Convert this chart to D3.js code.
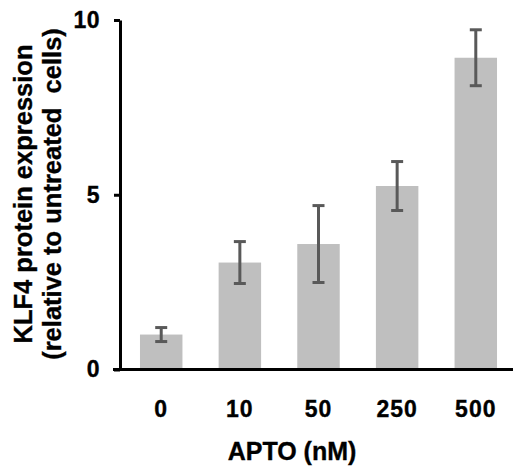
<!DOCTYPE html>
<html lang="en">
<head>
    <meta charset="UTF-8">
    <title>KLF4 expression vs APTO</title>
    <script src="https://cdn.jsdelivr.net/npm/d3@7"></script>
    <style>
        body { margin: 0; background: #fff; }
        text { font-family: "Liberation Sans", Arial, sans-serif; font-weight: bold; fill: #000; stroke: #000; stroke-width: 0.35px; }
    </style>
</head>
<body>
    <svg id="chart" width="513" height="469"></svg>

    <script>
        // data
        let doses = ["0", "10", "50", "250", "500"];
        let klf4 = [1.0, 3.06, 3.59, 5.25, 8.92];
        let klf4_err = [0.2, 0.6, 1.1, 0.7, 0.8];
        let y_ticks = [0, 5, 10];

        let svg = d3.select("#chart");

        let x = d3.scaleBand()
            .domain(doses)
            .range([120, 517])
            .paddingInner(0.46)
            .paddingOuter(0.254);

        let y = d3.scaleLinear()
            .domain([0, 10])
            .range([369.5, 20]);

        // bars
        svg.append("g")
            .selectAll("rect")
            .data(doses)
            .join("rect")
            .attr("x", d => x(d))
            .attr("width", x.bandwidth())
            .attr("y", (d, i) => y(klf4[i]))
            .attr("height", (d, i) => y(0) - y(klf4[i]))
            .attr("fill", "#bfbfbf");

        // error bars
        let err = svg.append("g")
            .attr("stroke", "#595959")
            .attr("stroke-width", 3);

        doses.forEach((d, i) => {
            let cx = x(d) + x.bandwidth() / 2;
            let top = y(klf4[i] + klf4_err[i]);
            let bot = y(klf4[i] - klf4_err[i]);
            err.append("line").attr("x1", cx).attr("x2", cx).attr("y1", top).attr("y2", bot);
            err.append("line").attr("x1", cx - 6).attr("x2", cx + 6).attr("y1", top).attr("y2", top);
            err.append("line").attr("x1", cx - 6).attr("x2", cx + 6).attr("y1", bot).attr("y2", bot);
        });

        // y axis
        let yAxis = svg.append("g")
            .attr("transform", "translate(120,0)")
            .call(d3.axisLeft(y).tickValues(y_ticks).tickSize(6).tickPadding(14).tickSizeOuter(0));
        yAxis.selectAll("line, path").attr("stroke", "#000").attr("stroke-width", 3);
        yAxis.selectAll("text").style("font-size", "23px").attr("letter-spacing", "0.5px");

        // x axis
        let xAxis = svg.append("g")
            .attr("transform", "translate(0,369.5)")
            .call(d3.axisBottom(x).tickSize(0).tickPadding(47.5));
        xAxis.select("path").attr("d", "M113,0H513").attr("stroke", "#000").attr("stroke-width", 3);
        xAxis.selectAll("text").style("font-size", "23px").attr("letter-spacing", "1px").attr("dy", "0");

        // titles
        svg.append("text")
            .attr("x", 292)
            .attr("y", 460)
            .attr("text-anchor", "middle")
            .style("font-size", "25px")
            .text("APTO (nM)");

        let yTitle = svg.append("text")
            .attr("transform", "translate(0,194) rotate(-90)")
            .attr("text-anchor", "middle")
            .style("font-size", "25.5px");
        yTitle.append("tspan").attr("x", 0).attr("y", 32).text("KLF4 protein expression");
        yTitle.append("tspan").attr("x", 0).attr("y", 61).attr("xml:space", "preserve")
            .style("white-space", "pre").text("(relative to untreated  cells)");
    </script>
</body>
</html>
